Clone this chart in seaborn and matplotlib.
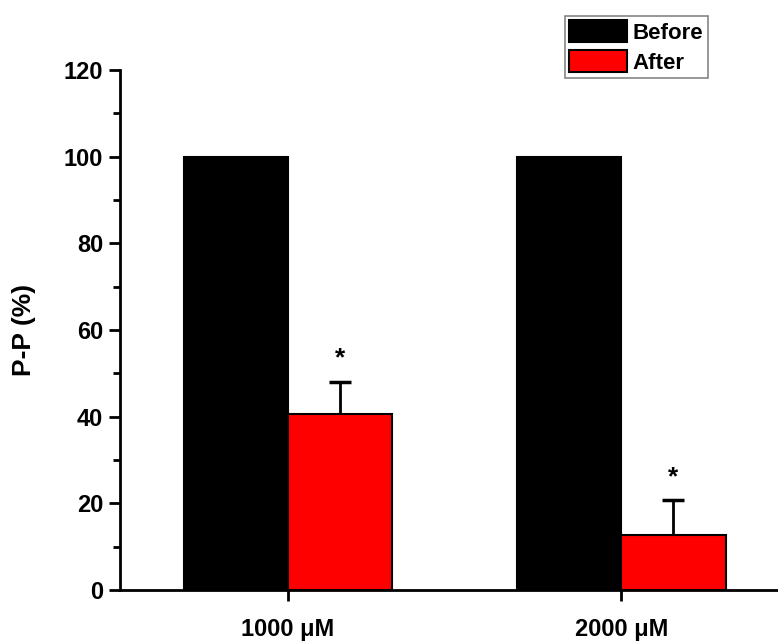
import pandas as pd
import numpy as np
from matplotlib import pyplot as plt
from matplotlib.ticker import MultipleLocator
import seaborn as sns

# Data
concentrations = ["1000 \u03bcM", "2000 \u03bcM"]
before_values = [100, 100]
after_values = [40.5, 12.7]
after_errors = [7.6, 8.0]
groups = ["Before", "After"]
colors = ["#000000", "#ff0000"]

df = pd.DataFrame({
    "concentration": concentrations * 2,
    "group": [groups[0]] * 2 + [groups[1]] * 2,
    "value": before_values + after_values,
})

sns.set_style("ticks")
plt.rcParams["font.family"] = ["Liberation Sans", "DejaVu Sans"]
plt.rcParams["font.weight"] = "bold"
for key in ["text.color", "axes.labelcolor", "xtick.color", "ytick.color", "axes.edgecolor"]:
    plt.rcParams[key] = "black"

fig = plt.figure(figsize=(7.78, 6.42), dpi=100)
ax = fig.add_axes([0.154, 0.081, 0.846, 0.810])

sns.barplot(data=df, x="concentration", y="value", hue="group",
            palette=colors, saturation=1, width=0.625, errorbar=None,
            edgecolor="black", linewidth=1.5, ax=ax)

# Error bars (upper only) and asterisks on the "After" bars
after_bars = ax.containers[1]
xs = [b.get_x() + b.get_width() / 2 for b in after_bars]
eb = ax.errorbar(xs, after_values, yerr=[np.zeros(len(after_errors)), after_errors],
                 fmt="none", ecolor="black", elinewidth=2, capsize=8, capthick=2.5)
eb[1][0].set_visible(False)  # hide the lower cap
for x, v, e in zip(xs, after_values, after_errors):
    ax.text(x, v + e + 2.5, "*", ha="center", va="bottom",
            fontsize=19, fontweight="bold")

ax.set_ylim(0, 120)
ax.set_xlim(-0.505, 1.47)
ax.yaxis.set_major_locator(MultipleLocator(20))
ax.yaxis.set_minor_locator(MultipleLocator(10))
ax.tick_params(axis="both", which="major", direction="out", length=8,
               width=2, labelsize=17, pad=4)
ax.tick_params(axis="y", which="minor", direction="out", length=5, width=2)
ax.tick_params(axis="x", labelsize=17, pad=12)
for lab in ax.get_xticklabels() + ax.get_yticklabels():
    lab.set_fontweight("bold")

sns.despine(ax=ax)
ax.spines["left"].set_linewidth(2)
ax.spines["bottom"].set_linewidth(2)

ax.set_xlabel("")
ax.set_ylabel("P-P (%)", fontsize=19, fontweight="bold", labelpad=20)

ax.get_legend().remove()
handles = [plt.Rectangle((0, 0), 1, 1, facecolor=c, edgecolor="black", linewidth=1.5)
           for c in colors]
leg = fig.legend(handles, groups, loc="upper left",
                 bbox_to_anchor=(565 / 778, 1 - 16 / 642),
                 frameon=True, fancybox=False, edgecolor="#666666",
                 prop={"size": 16, "weight": "bold"},
                 handlelength=2.6, handleheight=1.1, handletextpad=0.25,
                 labelspacing=0.3, borderpad=0.2, borderaxespad=0)
leg.get_frame().set_linewidth(1.2)

fig.savefig("out.png", dpi=100)
